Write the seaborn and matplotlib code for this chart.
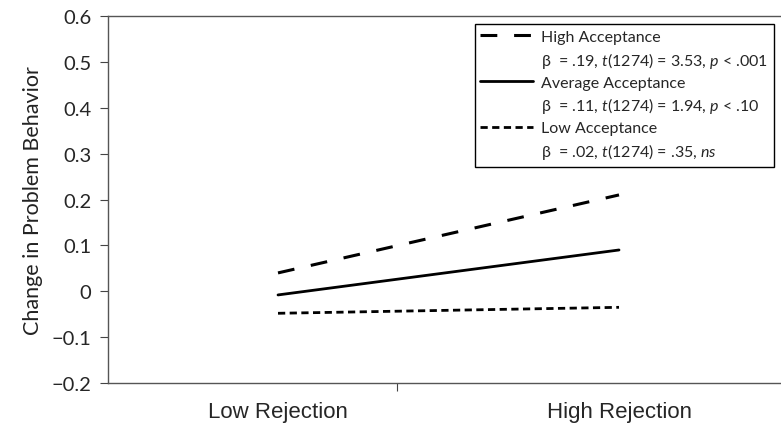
import numpy as np
import pandas as pd
import matplotlib
matplotlib.use("Agg")
import matplotlib.pyplot as plt
from matplotlib.lines import Line2D
import seaborn as sns

# data
x_labels = ["Low Rejection", "High Rejection"]
high_acc = [0.04, 0.21]
avg_acc = [-0.008, 0.09]
low_acc = [-0.048, -0.035]
y_ticks = [-0.2, -0.1, 0, 0.1, 0.2, 0.3, 0.4, 0.5, 0.6]
y_tick_labels = ["\u22120.2", "\u22120.1", "0", "0.1", "0.2", "0.3", "0.4", "0.5", "0.6"]
group_names = ["High Acceptance", "Average Acceptance", "Low Acceptance"]
group_stats = [
    "\u03b2  = .19, $t$(1274) = 3.53, $p$ < .001",
    "\u03b2  = .11, $t$(1274) = 1.94, $p$ < .10",
    "\u03b2  = .02, $t$(1274) = .35, $ns$",
]

df = pd.DataFrame({
    "x": [0, 1] * 3,
    "y": high_acc + avg_acc + low_acc,
    "group": ["High"] * 2 + ["Average"] * 2 + ["Low"] * 2,
})

sns.set_style("ticks")
plt.rcParams["font.family"] = ["Lato", "DejaVu Sans"]
plt.rcParams["mathtext.fontset"] = "custom"
plt.rcParams["mathtext.it"] = "Lato:italic"
plt.rcParams["mathtext.rm"] = "Lato"

fig = plt.figure(figsize=(7.81, 4.35), dpi=100)
ax = fig.add_axes([0.1383, 0.1172, 0.8617, 0.8437])

styles = {"High": ((0, (5.5, 5.5)), 2.2), "Average": ("-", 2.0), "Low": ((0, (2.6, 1.6)), 2.0)}
handles = []
for g in ["High", "Average", "Low"]:
    sub = df[df["group"] == g]
    ls, lw = styles[g]
    sns.lineplot(data=sub, x="x", y="y", color="black", ax=ax, legend=False)
    line = ax.lines[-1]
    line.set_linestyle(ls)
    line.set_linewidth(lw)
    handles.append(line)

ax.set_xlim(-0.4985, 1.475)
ax.set_ylim(-0.2, 0.6)
ax.set_yticks(y_ticks)
ax.set_yticklabels(y_tick_labels, fontsize=14.5)
ax.set_xticks([0, 1])
ax.set_xticklabels(x_labels, fontsize=16, family=["Liberation Sans", "DejaVu Sans"])
ax.tick_params(axis="x", length=0, pad=13)
ax.tick_params(axis="y", length=6, width=0.8, color="#444444", pad=6)
ax.set_xticks([0.35], minor=True)
ax.tick_params(axis="x", which="minor", length=6, width=0.8, color="#444444")
ax.set_xlabel("")
ax.set_ylabel("Change in Problem Behavior", fontsize=15.5, labelpad=6, color="#222222")

for s in ["left", "top", "bottom"]:
    ax.spines[s].set_linewidth(1.0)
    ax.spines[s].set_color("#555555")
ax.spines["right"].set_visible(False)

# legend: name row carries the line sample, stats row has a blank handle
blank = Line2D([], [], linestyle="none")
leg_handles, leg_labels = [], []
for h, name, stat in zip(handles, group_names, group_stats):
    leg_handles += [h, blank]
    leg_labels += [name, stat]

leg = ax.legend(leg_handles, leg_labels, loc="upper left", bbox_to_anchor=(0.545, 0.978),
                fontsize=11.5, frameon=True, fancybox=False, framealpha=1,
                handlelength=3.3, handletextpad=0.5, labelspacing=0.36,
                borderpad=0.35, borderaxespad=0)
leg.get_frame().set_edgecolor("black")
leg.get_frame().set_linewidth(1.0)

fig.savefig("out.png", dpi=100)
